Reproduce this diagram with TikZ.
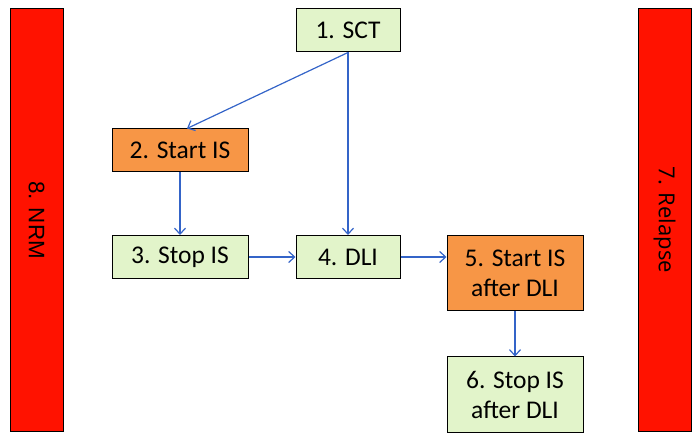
\documentclass[tikz,border=0pt]{standalone}
\usepackage{fontspec}
\setmainfont{Carlito}
\newfontfamily\barfont{Liberation Sans}
\newfontfamily\relfont{Open Sans}
\usepackage{tikz}
\usetikzlibrary{arrows.meta}
\definecolor{boxgreen}{RGB}{226,244,202}
\definecolor{boxorange}{RGB}{247,150,70}
\definecolor{barred}{RGB}{255,18,0}
\definecolor{linkblue}{RGB}{52,100,200}
\tikzset{
    step-box/.style = {draw=black, fill=boxgreen, line width=1pt, rectangle, inner sep=0pt, align=center, font=\fontsize{25.5}{30}\selectfont},
    is-box/.style = {step-box, fill=boxorange},
    side-bar/.style = {draw=black, fill=barred, line width=1pt, rectangle, inner sep=0pt, minimum width=53pt, minimum height=422pt},
    link/.style = {draw=linkblue, line width=1.2pt, -{Straight Barb[length=6pt,width=11pt,line width=1.2pt]}},
}

\begin{document}
\begin{tikzpicture}[x=1pt,y=1pt]
\useasboundingbox (0,0) rectangle (700,441);
% side bars
\node [side-bar] (nrm) at (36.5,221) {};
\node [rotate=-90, font=\barfont\fontsize{22.4}{26}\selectfont] at (nrm.center) {8. NRM};
\node [side-bar] (relapse) at (664.5,221) {};
\node [rotate=-90, font=\relfont\fontsize{22}{26}\selectfont] at (relapse.center) {7. Relapse};
% steps
\node [step-box, minimum width=104pt, minimum height=43pt] (sct) at (348,410.5) {1. SCT};
\node [is-box, minimum width=136pt, minimum height=43pt] (startis) at (180,290.5) {2. Start IS};
\node [step-box, minimum width=136pt, minimum height=43pt] (stopis) at (180,184) {3. Stop IS};
\node [step-box, minimum width=104pt, minimum height=43pt] (dli) at (348,184) {4. DLI};
\node [is-box, minimum width=136pt, minimum height=75pt] (startdli) at (515,168) {5. Start IS\\after DLI};
\node [step-box, minimum width=136pt, minimum height=75pt] (stopdli) at (515,46.5) {6. Stop IS\\after DLI};
% links
\draw [link] (sct.south) -- ([xshift=7pt]startis.north);
\draw [link] (sct.south) -- (dli.north);
\draw [link] (startis.south) -- (stopis.north);
\draw [link] (stopis.east) -- (dli.east -| dli.west);
\draw [link] (dli.east) -- (dli.east -| startdli.west);
\draw [link] (startdli.south) -- (stopdli.north);
\end{tikzpicture}
\end{document}
